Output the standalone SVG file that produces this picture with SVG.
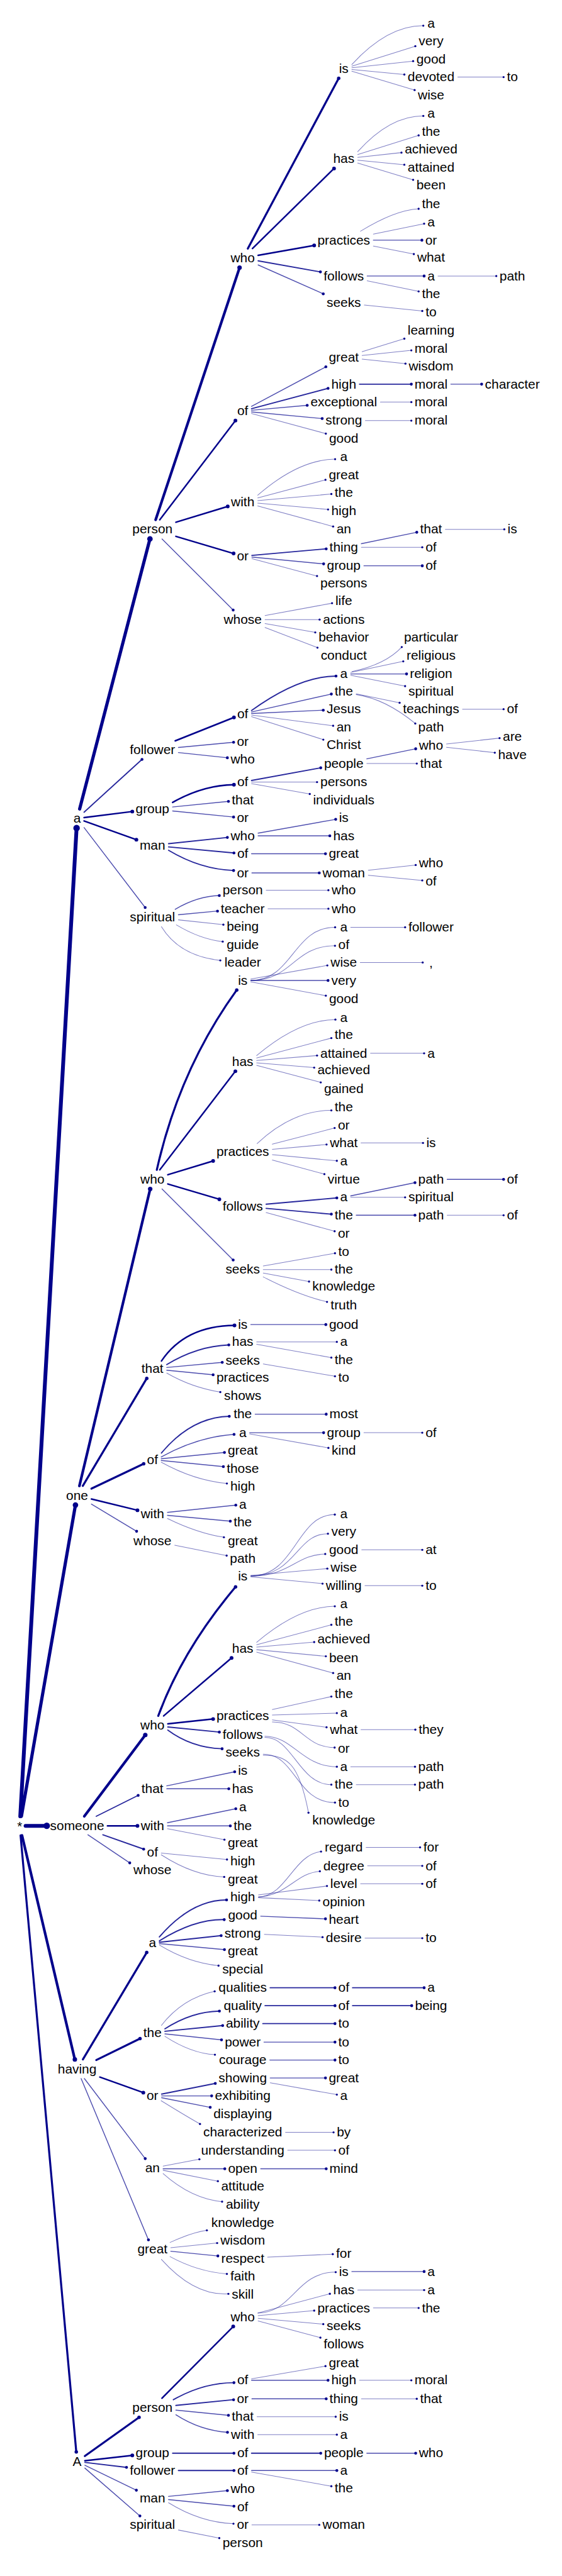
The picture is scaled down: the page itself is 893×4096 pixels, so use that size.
<svg xmlns="http://www.w3.org/2000/svg" width="893" height="4096" viewBox="0 0 893 4096">
<defs>
<style>
text{font-family:"Liberation Sans",Arial,sans-serif;font-size:22px;text-anchor:middle;fill:#000}
#links path{fill:none;stroke:#00008b;stroke-linecap:round}
.a{stroke-width:1.1;stroke-opacity:.5;marker-end:url(#m1)}
.b{stroke-width:1.5;stroke-opacity:.7;marker-end:url(#m1)}
.c{stroke-width:2;stroke-opacity:.85;marker-end:url(#m2)}
.d{stroke-width:2.6;marker-end:url(#m2)}
.e{stroke-width:3.4;marker-end:url(#m3)}
.f{stroke-width:4.4;marker-end:url(#m3)}
.g{stroke-width:5.4;marker-end:url(#m3)}
.h{stroke-width:6.4;marker-end:url(#m3)}
</style>
<marker id="m1" viewBox="-3 -3 6 6" markerWidth="6" markerHeight="6" markerUnits="strokeWidth"><circle r="1.6" fill="#00008b"/></marker>
<marker id="m2" viewBox="-3 -3 6 6" markerWidth="6" markerHeight="6" markerUnits="strokeWidth"><circle r="1.2" fill="#00008b"/></marker>
<marker id="m3" viewBox="-3 -3 6 6" markerWidth="6" markerHeight="6" markerUnits="strokeWidth"><circle r="0.85" fill="#00008b"/></marker>
</defs>
<rect width="893" height="4096" fill="#fff"/>
<g transform="scale(0.95)">
<g id="links">
<path class="h" d="M33.9 3040L128.1 1386"/>
<path class="g" d="M35.8 3040L126.2 2519"/>
<path class="h" d="M42.8 3056L78.2 3056"/>
<path class="f" d="M36.8 3072L125.2 3447"/>
<path class="e" d="M34.4 3072L127.6 4104"/>
<path class="g" d="M133.2 1354L250.8 902"/>
<path class="c" d="M140.6 1359.4L237.5 1271"/>
<path class="d" d="M140.6 1368.5L221.3 1358.3"/>
<path class="d" d="M140.6 1374.1L228.1 1405.4"/>
<path class="b" d="M140.6 1385.2L242.8 1519"/>
<path class="f" d="M260.3 870L400.7 448"/>
<path class="d" d="M267.2 870L393.8 704"/>
<path class="d" d="M294.2 874.1L380.9 847.6"/>
<path class="d" d="M294.2 897.7L390.7 926.4"/>
<path class="b" d="M271 902L390 1021"/>
<path class="e" d="M414.5 416L566.5 131"/>
<path class="d" d="M422.3 416L558.7 282"/>
<path class="d" d="M431.7 427.4L525.5 410.8"/>
<path class="c" d="M431.7 436.6L535.9 455.1"/>
<path class="b" d="M431.7 443.4L540.7 491.8"/>
<path class="a" d="M588.5 108Q648 43 708 43"/>
<path class="a" d="M588.5 110.7L694.7 77.3"/>
<path class="a" d="M588.5 113.5L691 102.3"/>
<path class="a" d="M588.5 116.3L676.3 124.7"/>
<path class="a" d="M588.5 119.1L693.5 150.7"/>
<path class="a" d="M765.7 129L842.3 129"/>
<path class="a" d="M598.3 253.9Q652 194 708 194"/>
<path class="a" d="M598.3 258.7L700.2 226.6"/>
<path class="a" d="M598.3 263.4L671.5 255.4"/>
<path class="a" d="M598.3 268.2L676.3 275.7"/>
<path class="a" d="M598.3 273L691 301"/>
<path class="a" d="M603 387Q660 352 700.2 349.5"/>
<path class="a" d="M624.5 391.8L709.4 374.4"/>
<path class="b" d="M624.5 402L705.7 402"/>
<path class="a" d="M624.5 411.8L692.2 425.3"/>
<path class="b" d="M614.1 462L709.4 462"/>
<path class="a" d="M614.1 470L700.2 487.7"/>
<path class="a" d="M732.6 462L830.1 462"/>
<path class="a" d="M609.3 510.5L706.3 520.5"/>
<path class="b" d="M420.7 680.2L545 614"/>
<path class="c" d="M420.7 684.1L548.7 650"/>
<path class="b" d="M420.7 686.7L513.8 678.4"/>
<path class="b" d="M420.7 689.4L538.9 700.6"/>
<path class="a" d="M420.7 692L545 725.8"/>
<path class="a" d="M605.6 588.6L676.3 566.8"/>
<path class="a" d="M605.6 594.9L688 586.4"/>
<path class="a" d="M605.6 601.1L678.2 608.6"/>
<path class="c" d="M601.3 643L688 643"/>
<path class="b" d="M754 643L805.6 643"/>
<path class="a" d="M636.2 673L688 673"/>
<path class="a" d="M611.1 704L688 704"/>
<path class="a" d="M431.1 828.9Q500 769 560.5 768.5"/>
<path class="a" d="M431.1 833.3L544.4 803.1"/>
<path class="a" d="M431.1 837.8L554.2 826.8"/>
<path class="a" d="M431.1 842.2L548.7 852.7"/>
<path class="a" d="M431.1 846.8L557.2 881.2"/>
<path class="c" d="M421.3 929.6L545.6 918.6"/>
<path class="b" d="M421.3 932.4L541.3 943.8"/>
<path class="a" d="M421.3 935.1L530.3 964.1"/>
<path class="b" d="M604.4 910L697.1 890.9"/>
<path class="a" d="M604.4 916L706.3 916"/>
<path class="a" d="M744.9 886L843.5 886"/>
<path class="b" d="M608.7 947L706.3 947"/>
<path class="a" d="M443.3 1030.2L555.4 1009.6"/>
<path class="a" d="M443.3 1037L534.6 1037"/>
<path class="a" d="M443.3 1043.6L527.3 1058.5"/>
<path class="a" d="M443.3 1050.2L531 1084"/>
<path class="d" d="M293 1240L391.3 1200.8"/>
<path class="b" d="M298.4 1251L390.7 1242.4"/>
<path class="b" d="M298.4 1259.6L380.3 1268.3"/>
<path class="c" d="M420.7 1189.2Q500 1132 562 1131.5"/>
<path class="b" d="M420.7 1191.7L554.2 1161.7"/>
<path class="b" d="M420.7 1194.3L540.7 1188.6"/>
<path class="a" d="M420.7 1196.9L557.2 1214.7"/>
<path class="a" d="M420.7 1199.5L540.8 1238"/>
<path class="a" d="M589 1124Q645 1112 672 1083"/>
<path class="a" d="M586.6 1125.5L674.5 1106.9"/>
<path class="b" d="M586.6 1128L680 1128"/>
<path class="a" d="M586.6 1130.3L677.6 1148.4"/>
<path class="a" d="M595.8 1161.3L668.4 1176.2"/>
<path class="a" d="M595.8 1162.5Q645 1170 694.6 1211"/>
<path class="a" d="M773.6 1187L842.3 1187"/>
<path class="d" d="M288.7 1343Q340 1314 391.3 1313.4"/>
<path class="b" d="M288.7 1350.7L382.1 1341.4"/>
<path class="b" d="M288.7 1357.3L390.7 1367.5"/>
<path class="c" d="M420.7 1306.3L536.5 1285.1"/>
<path class="a" d="M420.7 1309L530.3 1309"/>
<path class="a" d="M420.7 1311.6L518.1 1328.9"/>
<path class="b" d="M613.5 1270.1L695.3 1253.3"/>
<path class="a" d="M613.5 1278L697.1 1278"/>
<path class="a" d="M746.7 1245.2L835.6 1235.4"/>
<path class="a" d="M746.7 1250.8L827.6 1259.8"/>
<path class="c" d="M281.9 1412.1L380.3 1401.7"/>
<path class="c" d="M281.9 1417.5L391.3 1427.6"/>
<path class="c" d="M281.9 1423.2Q335 1455 390.7 1457"/>
<path class="b" d="M431.7 1394.4L561.5 1371.4"/>
<path class="b" d="M431.7 1399L551.7 1399"/>
<path class="b" d="M420.7 1429L544.4 1429"/>
<path class="b" d="M421.3 1461L534 1461"/>
<path class="a" d="M616 1456.5L695.3 1447.8"/>
<path class="a" d="M616 1464.9L706.3 1473.6"/>
<path class="b" d="M293 1522Q330 1500 366.8 1499"/>
<path class="b" d="M298.4 1531L363.8 1524.9"/>
<path class="a" d="M298.4 1539.6L373.6 1547.6"/>
<path class="a" d="M295 1548Q335 1572 372.5 1576"/>
<path class="a" d="M270 1551Q300 1600 368.5 1607.5"/>
<path class="a" d="M445.2 1490L549.3 1490"/>
<path class="a" d="M448.2 1521L549.3 1521"/>
<path class="f" d="M132.8 2487L251.2 1990"/>
<path class="e" d="M138.5 2487L245.5 2307"/>
<path class="e" d="M152.9 2491.6L240.3 2450"/>
<path class="d" d="M152.9 2508.9L229.9 2527.8"/>
<path class="b" d="M152.9 2517.4L228.5 2563"/>
<path class="e" d="M262.3 1958Q300 1790 396 1657"/>
<path class="d" d="M267.3 1958L393.7 1793"/>
<path class="d" d="M280.7 1966.2L356.5 1943.1"/>
<path class="d" d="M280.7 1981.7L366.9 2007.3"/>
<path class="b" d="M271 1990L390 2109"/>
<path class="a" d="M419.5 1641C490 1641 490 1552 560.5 1552"/>
<path class="a" d="M419.5 1641C490 1641 490 1583 560.3 1583"/>
<path class="a" d="M419.5 1638.6L547.5 1615.9"/>
<path class="b" d="M419.5 1641L548.7 1641"/>
<path class="a" d="M419.5 1643.5L545 1666.5"/>
<path class="a" d="M586.6 1552L677.6 1552"/>
<path class="a" d="M602.5 1611L707 1611"/>
<path class="a" d="M429.3 1766.8Q500 1707 561 1706.5"/>
<path class="a" d="M429.3 1770.8L554.2 1737.5"/>
<path class="a" d="M429.3 1775.1L530.3 1766.7"/>
<path class="a" d="M429.3 1778.9L525.5 1786.9"/>
<path class="a" d="M429.3 1783.2L536.5 1811.7"/>
<path class="a" d="M619.7 1763L709.4 1763"/>
<path class="a" d="M430 1914Q490 1858 554.2 1858.5"/>
<path class="a" d="M455.5 1915.1L559.7 1888"/>
<path class="a" d="M455.5 1923.6L546.2 1915.6"/>
<path class="a" d="M455.5 1932.7L563.4 1942.9"/>
<path class="a" d="M455.5 1941.5L542.6 1965.2"/>
<path class="a" d="M603.8 1913L707.5 1913"/>
<path class="c" d="M445.1 2015.5L563.4 2005"/>
<path class="c" d="M445.1 2022.5L554.2 2032.2"/>
<path class="a" d="M445.1 2029.6L559.7 2060.8"/>
<path class="b" d="M586.6 2001.6L694.1 1979.5"/>
<path class="a" d="M586.6 2004L677.6 2004"/>
<path class="b" d="M747.9 1974L842.3 1974"/>
<path class="b" d="M595.8 2034L694.1 2034"/>
<path class="a" d="M747.9 2034L842.3 2034"/>
<path class="a" d="M440.3 2118.9L560.3 2097.6"/>
<path class="a" d="M440.3 2125L554.2 2125"/>
<path class="a" d="M440.3 2130.7L516.9 2145"/>
<path class="a" d="M440.3 2137.2Q500 2168 547 2179"/>
<path class="d" d="M270 2278Q310 2219 392.2 2218.5"/>
<path class="c" d="M278.9 2283.9Q330 2253 382.7 2251"/>
<path class="b" d="M278.9 2288.8L371.7 2280.2"/>
<path class="b" d="M278.9 2293.4L356.5 2301.1"/>
<path class="a" d="M278.9 2298.1Q320 2322 368.5 2330"/>
<path class="b" d="M419.5 2217L545 2217"/>
<path class="a" d="M429.3 2246L563.4 2246"/>
<path class="a" d="M429.3 2250.1L554.2 2272.3"/>
<path class="a" d="M440.3 2282.9L560.3 2303.5"/>
<path class="c" d="M270 2432Q320 2372 383.5 2370.5"/>
<path class="b" d="M269.7 2438.6Q330 2405 391.5 2400.7"/>
<path class="b" d="M269.7 2441.5L375.4 2431"/>
<path class="b" d="M269.7 2444.5L373.6 2454.8"/>
<path class="a" d="M269.7 2447.4Q325 2478 379.5 2483"/>
<path class="b" d="M426.8 2367L545.6 2367"/>
<path class="b" d="M417.6 2398L541.3 2398"/>
<path class="a" d="M417.6 2400.1L549.3 2423.4"/>
<path class="a" d="M608.7 2398L706.3 2398"/>
<path class="b" d="M280.1 2531.3L394.4 2519.2"/>
<path class="b" d="M280.1 2536.3L385.2 2546.1"/>
<path class="a" d="M280.1 2541.5Q330 2566 374.5 2573"/>
<path class="a" d="M292.3 2586.4L379.1 2603.7"/>
<path class="f" d="M141 3040L243 2904"/>
<path class="c" d="M161 3040L231.1 3005"/>
<path class="d" d="M179.8 3056L229.9 3056"/>
<path class="c" d="M172 3071L240.3 3095"/>
<path class="b" d="M147 3071L217 3118"/>
<path class="e" d="M264.7 2872Q305 2762 394 2656"/>
<path class="d" d="M273.7 2872L387.3 2775"/>
<path class="d" d="M280.7 2885.3L356.5 2877.2"/>
<path class="c" d="M280.7 2890.6L366.9 2899.1"/>
<path class="c" d="M280.7 2895.7Q320 2925 371.5 2927"/>
<path class="a" d="M419.5 2638C495 2638 495 2535 560 2535"/>
<path class="a" d="M419.5 2638C495 2638 495 2567 548.5 2567"/>
<path class="a" d="M419.5 2638C485 2638 495 2602 544 2601"/>
<path class="a" d="M419.5 2636.8L547.5 2625.4"/>
<path class="a" d="M419.5 2639.3L539.5 2650.6"/>
<path class="a" d="M605 2594L706.3 2594"/>
<path class="a" d="M610.5 2654L706.3 2654"/>
<path class="a" d="M429.3 2748.8Q500 2689 560 2688.5"/>
<path class="a" d="M429.3 2752.8L554.2 2719.5"/>
<path class="a" d="M429.3 2756.9L525.5 2748.4"/>
<path class="a" d="M429.3 2761.2L545 2772.2"/>
<path class="a" d="M429.3 2765.3L557.2 2800.2"/>
<path class="a" d="M455.5 2861.2L554.2 2839.6"/>
<path class="a" d="M455.5 2870.5L563.4 2867.3"/>
<path class="a" d="M455.5 2878.7L546.2 2891.1"/>
<path class="a" d="M455.5 2882C505 2882 510 2925 559.7 2925"/>
<path class="a" d="M603.8 2895L694.7 2895"/>
<path class="a" d="M443 2906C490 2906 505 2957 563.4 2957"/>
<path class="a" d="M443 2908C490 2908 500 2987 554.2 2987"/>
<path class="a" d="M586.6 2957L694.1 2957"/>
<path class="a" d="M595.8 2987L694.1 2987"/>
<path class="a" d="M440.3 2936C495 2936 495 3017 560.3 3017"/>
<path class="a" d="M440.3 2938C480 2938 500 2950 516 3034"/>
<path class="b" d="M278.9 2989.1L392.5 2965.5"/>
<path class="b" d="M278.9 2994L382.7 2994"/>
<path class="b" d="M280.1 3050.8L394.4 3027.4"/>
<path class="b" d="M280.1 3056L385.2 3056"/>
<path class="a" d="M280.1 3060.8L375.4 3079.1"/>
<path class="a" d="M269.7 3101.5L379.7 3112.4"/>
<path class="a" d="M269.7 3104.5Q325 3140 375 3141.5"/>
<path class="e" d="M138.6 3447L245.4 3268"/>
<path class="e" d="M161 3448L234.2 3412.1"/>
<path class="d" d="M166.9 3476.5L239.7 3502.5"/>
<path class="b" d="M141.1 3479L242.9 3613"/>
<path class="b" d="M135.7 3479L248.3 3749"/>
<path class="c" d="M266.5 3242Q320 3180 379 3180"/>
<path class="c" d="M266.6 3248.5Q325 3212 375 3213"/>
<path class="c" d="M266.6 3250.8L369.9 3239.8"/>
<path class="b" d="M266.6 3253.1L375.4 3263.2"/>
<path class="a" d="M266.6 3255.4Q315 3285 365.5 3290"/>
<path class="a" d="M432.3 3175C480 3173 490 3105 537 3099"/>
<path class="a" d="M432.3 3175C480 3173 495 3135 535 3132"/>
<path class="a" d="M432.3 3171.6L546.9 3156.7"/>
<path class="a" d="M432.3 3176.2L534 3181.1"/>
<path class="a" d="M612.3 3092L702.6 3092"/>
<path class="a" d="M614.8 3123L706.3 3123"/>
<path class="a" d="M603.1 3153L706.3 3153"/>
<path class="b" d="M436 3207.2L544.4 3211.7"/>
<path class="a" d="M442.1 3237.7L539.5 3242.3"/>
<path class="a" d="M610.5 3244L706.3 3244"/>
<path class="a" d="M270 3390Q305 3345 359 3333"/>
<path class="c" d="M275.8 3395.8Q320 3367 367 3366"/>
<path class="c" d="M275.8 3399.9L372.4 3390.3"/>
<path class="b" d="M275.8 3404.2L370.5 3414.2"/>
<path class="a" d="M275.8 3408.3Q320 3437 359.5 3439"/>
<path class="c" d="M451.9 3327L560.3 3327"/>
<path class="c" d="M589.7 3327L709.4 3327"/>
<path class="c" d="M443.3 3357L560.3 3357"/>
<path class="c" d="M589.7 3357L688.6 3357"/>
<path class="c" d="M439.6 3387L560.3 3387"/>
<path class="b" d="M441.5 3418L560.3 3418"/>
<path class="b" d="M451.3 3448L560.3 3448"/>
<path class="c" d="M270.3 3505L360.1 3487.1"/>
<path class="b" d="M270.3 3508L354 3508"/>
<path class="b" d="M270.3 3511L351.6 3527.2"/>
<path class="a" d="M269.5 3516Q305 3538 334.5 3555"/>
<path class="b" d="M451.9 3478L544.4 3478"/>
<path class="a" d="M451.9 3486.1L563.4 3505.9"/>
<path class="a" d="M477.5 3569L557.9 3569"/>
<path class="a" d="M272.8 3625.5L333.5 3614"/>
<path class="b" d="M272.8 3630L376 3630"/>
<path class="a" d="M272.8 3632.5L364.4 3650.7"/>
<path class="a" d="M272.8 3638Q320 3680 371.5 3685"/>
<path class="a" d="M481.2 3599L560.3 3599"/>
<path class="b" d="M436 3630L545.6 3630"/>
<path class="a" d="M284.4 3753.3Q320 3737 346 3733"/>
<path class="a" d="M285.6 3762L363.2 3754.3"/>
<path class="b" d="M285.6 3768L364.4 3775.9"/>
<path class="a" d="M284.4 3777Q330 3802 379.5 3806"/>
<path class="a" d="M270 3781.7Q325 3843 382 3839.3"/>
<path class="a" d="M447.6 3778L556.6 3772.9"/>
<path class="e" d="M141.9 4110.8L232.6 4046"/>
<path class="d" d="M141.9 4118.6L221.3 4109.7"/>
<path class="c" d="M141.9 4121.5L211.6 4129.8"/>
<path class="b" d="M141.9 4126.2L228.1 4168"/>
<path class="b" d="M141.9 4130.9L234 4211"/>
<path class="d" d="M270.9 4014L390.1 3894"/>
<path class="c" d="M290 4016.5Q340 3988 391.3 3988"/>
<path class="c" d="M294.2 4026.1L390.7 4016.5"/>
<path class="b" d="M294.2 4033.9L382.1 4042.6"/>
<path class="b" d="M294.2 4041.7Q335 4068 380.5 4071"/>
<path class="a" d="M431 3871.5C490 3871 495 3803 561.5 3803"/>
<path class="a" d="M431.7 3871.2L551.7 3839.2"/>
<path class="a" d="M431.7 3875.7L525.5 3867.4"/>
<path class="a" d="M431.7 3880.3L540.7 3890"/>
<path class="a" d="M431.7 3884.8L535.9 3912.6"/>
<path class="b" d="M588.5 3802L709.4 3802"/>
<path class="a" d="M598.3 3833L709.4 3833"/>
<path class="a" d="M624.5 3863L700.2 3863"/>
<path class="a" d="M420.7 3981.5L544.4 3960.3"/>
<path class="b" d="M420.7 3984L548.7 3984"/>
<path class="a" d="M601.3 3984L688 3984"/>
<path class="b" d="M421.3 4015L545.6 4015"/>
<path class="a" d="M604.4 4015L697.1 4015"/>
<path class="a" d="M429.9 4045L561.5 4045"/>
<path class="a" d="M431.1 4075L563.4 4075"/>
<path class="c" d="M288.7 4106L391.3 4106"/>
<path class="c" d="M420.7 4106L536.5 4106"/>
<path class="b" d="M613.5 4106L695.3 4106"/>
<path class="c" d="M298.4 4135L391.3 4135"/>
<path class="b" d="M420.7 4135L563.4 4135"/>
<path class="a" d="M420.7 4137.6L554.2 4161.3"/>
<path class="b" d="M281.9 4178.3L380.3 4168.6"/>
<path class="b" d="M281.9 4183.7L391.3 4194.7"/>
<path class="a" d="M281.9 4189Q335 4222 390.5 4224"/>
<path class="a" d="M421.3 4226L534 4226"/>
<path class="a" d="M298.4 4234.6L366.8 4248.2"/>
</g>
<g id="nodes">
<g id="n0"><text x="33" y="3064">*</text></g>
<g id="n1"><text x="129" y="1377">a</text></g>
<g id="n2"><text x="129" y="2510">one</text></g>
<g id="n3"><text x="129" y="3063">someone</text></g>
<g id="n4"><text x="129" y="3470">having</text></g>
<g id="n5"><text x="129" y="4127">A</text></g>
<g id="n6"><text x="255" y="893">person</text></g>
<g id="n7"><text x="406" y="439">who</text></g>
<g id="n8"><text x="575" y="122">is</text></g>
<g id="n9"><text x="721" y="46">a</text></g>
<g id="n10"><text x="721" y="76">very</text></g>
<g id="n11"><text x="721" y="106">good</text></g>
<g id="n12"><text x="721" y="136">devoted</text></g>
<g id="n13"><text x="857" y="136">to</text></g>
<g id="n14"><text x="721" y="166">wise</text></g>
<g id="n15"><text x="575" y="273">has</text></g>
<g id="n16"><text x="721" y="197">a</text></g>
<g id="n17"><text x="721" y="227">the</text></g>
<g id="n18"><text x="721" y="257">achieved</text></g>
<g id="n19"><text x="721" y="287">attained</text></g>
<g id="n20"><text x="721" y="317">been</text></g>
<g id="n21"><text x="575" y="409">practices</text></g>
<g id="n22"><text x="721" y="348">the</text></g>
<g id="n23"><text x="721" y="379">a</text></g>
<g id="n24"><text x="721" y="409">or</text></g>
<g id="n25"><text x="721" y="438">what</text></g>
<g id="n26"><text x="575" y="469">follows</text></g>
<g id="n27"><text x="721" y="469">a</text></g>
<g id="n28"><text x="857" y="469">path</text></g>
<g id="n29"><text x="721" y="499">the</text></g>
<g id="n30"><text x="575" y="514">seeks</text></g>
<g id="n31"><text x="721" y="529">to</text></g>
<g id="n32"><text x="406" y="695">of</text></g>
<g id="n33"><text x="575" y="605">great</text></g>
<g id="n34"><text x="721" y="560">learning</text></g>
<g id="n35"><text x="721" y="590">moral</text></g>
<g id="n36"><text x="721" y="620">wisdom</text></g>
<g id="n37"><text x="575" y="650">high</text></g>
<g id="n38"><text x="721" y="650">moral</text></g>
<g id="n39"><text x="857" y="650">character</text></g>
<g id="n40"><text x="575" y="680">exceptional</text></g>
<g id="n41"><text x="721" y="680">moral</text></g>
<g id="n42"><text x="575" y="711">strong</text></g>
<g id="n43"><text x="721" y="711">moral</text></g>
<g id="n44"><text x="575" y="741">good</text></g>
<g id="n45"><text x="406" y="847">with</text></g>
<g id="n46"><text x="575" y="772">a</text></g>
<g id="n47"><text x="575" y="802">great</text></g>
<g id="n48"><text x="575" y="832">the</text></g>
<g id="n49"><text x="575" y="862">high</text></g>
<g id="n50"><text x="575" y="893">an</text></g>
<g id="n51"><text x="406" y="938">or</text></g>
<g id="n52"><text x="575" y="923">thing</text></g>
<g id="n53"><text x="721" y="893">that</text></g>
<g id="n54"><text x="857" y="893">is</text></g>
<g id="n55"><text x="721" y="923">of</text></g>
<g id="n56"><text x="575" y="954">group</text></g>
<g id="n57"><text x="721" y="954">of</text></g>
<g id="n58"><text x="575" y="983">persons</text></g>
<g id="n59"><text x="406" y="1044">whose</text></g>
<g id="n60"><text x="575" y="1013">life</text></g>
<g id="n61"><text x="575" y="1044">actions</text></g>
<g id="n62"><text x="575" y="1074">behavior</text></g>
<g id="n63"><text x="575" y="1104">conduct</text></g>
<g id="n64"><text x="255" y="1262">follower</text></g>
<g id="n65"><text x="406" y="1202">of</text></g>
<g id="n66"><text x="575" y="1135">a</text></g>
<g id="n67"><text x="721" y="1074">particular</text></g>
<g id="n68"><text x="721" y="1104">religious</text></g>
<g id="n69"><text x="721" y="1135">religion</text></g>
<g id="n70"><text x="721" y="1164">spiritual</text></g>
<g id="n71"><text x="575" y="1164">the</text></g>
<g id="n72"><text x="721" y="1194">teachings</text></g>
<g id="n73"><text x="857" y="1194">of</text></g>
<g id="n74"><text x="721" y="1224">path</text></g>
<g id="n75"><text x="575" y="1194">Jesus</text></g>
<g id="n76"><text x="575" y="1224">an</text></g>
<g id="n77"><text x="575" y="1254">Christ</text></g>
<g id="n78"><text x="406" y="1248">or</text></g>
<g id="n79"><text x="406" y="1278">who</text></g>
<g id="n80"><text x="255" y="1361">group</text></g>
<g id="n81"><text x="406" y="1316">of</text></g>
<g id="n82"><text x="575" y="1285">people</text></g>
<g id="n83"><text x="721" y="1255">who</text></g>
<g id="n84"><text x="857" y="1240">are</text></g>
<g id="n85"><text x="857" y="1270">have</text></g>
<g id="n86"><text x="721" y="1285">that</text></g>
<g id="n87"><text x="575" y="1316">persons</text></g>
<g id="n88"><text x="575" y="1346">individuals</text></g>
<g id="n89"><text x="406" y="1346">that</text></g>
<g id="n90"><text x="406" y="1376">or</text></g>
<g id="n91"><text x="255" y="1422">man</text></g>
<g id="n92"><text x="406" y="1406">who</text></g>
<g id="n93"><text x="575" y="1376">is</text></g>
<g id="n94"><text x="575" y="1406">has</text></g>
<g id="n95"><text x="406" y="1436">of</text></g>
<g id="n96"><text x="575" y="1436">great</text></g>
<g id="n97"><text x="406" y="1468">or</text></g>
<g id="n98"><text x="575" y="1468">woman</text></g>
<g id="n99"><text x="721" y="1452">who</text></g>
<g id="n100"><text x="721" y="1482">of</text></g>
<g id="n101"><text x="255" y="1542">spiritual</text></g>
<g id="n102"><text x="406" y="1497">person</text></g>
<g id="n103"><text x="575" y="1497">who</text></g>
<g id="n104"><text x="406" y="1528">teacher</text></g>
<g id="n105"><text x="575" y="1528">who</text></g>
<g id="n106"><text x="406" y="1558">being</text></g>
<g id="n107"><text x="406" y="1588">guide</text></g>
<g id="n108"><text x="406" y="1618">leader</text></g>
<g id="n109"><text x="255" y="1981">who</text></g>
<g id="n110"><text x="406" y="1648">is</text></g>
<g id="n111"><text x="575" y="1559">a</text></g>
<g id="n112"><text x="721" y="1559">follower</text></g>
<g id="n113"><text x="575" y="1588">of</text></g>
<g id="n114"><text x="575" y="1618">wise</text></g>
<g id="n115"><text x="721" y="1619">,</text></g>
<g id="n116"><text x="575" y="1648">very</text></g>
<g id="n117"><text x="575" y="1679">good</text></g>
<g id="n118"><text x="406" y="1784">has</text></g>
<g id="n119"><text x="575" y="1710">a</text></g>
<g id="n120"><text x="575" y="1739">the</text></g>
<g id="n121"><text x="575" y="1770">attained</text></g>
<g id="n122"><text x="721" y="1770">a</text></g>
<g id="n123"><text x="575" y="1798">achieved</text></g>
<g id="n124"><text x="575" y="1829">gained</text></g>
<g id="n125"><text x="406" y="1935">practices</text></g>
<g id="n126"><text x="575" y="1860">the</text></g>
<g id="n127"><text x="575" y="1891">or</text></g>
<g id="n128"><text x="575" y="1920">what</text></g>
<g id="n129"><text x="721" y="1920">is</text></g>
<g id="n130"><text x="575" y="1951">a</text></g>
<g id="n131"><text x="575" y="1981">virtue</text></g>
<g id="n132"><text x="406" y="2026">follows</text></g>
<g id="n133"><text x="575" y="2011">a</text></g>
<g id="n134"><text x="721" y="1981">path</text></g>
<g id="n135"><text x="857" y="1981">of</text></g>
<g id="n136"><text x="721" y="2011">spiritual</text></g>
<g id="n137"><text x="575" y="2041">the</text></g>
<g id="n138"><text x="721" y="2041">path</text></g>
<g id="n139"><text x="857" y="2041">of</text></g>
<g id="n140"><text x="575" y="2072">or</text></g>
<g id="n141"><text x="406" y="2132">seeks</text></g>
<g id="n142"><text x="575" y="2102">to</text></g>
<g id="n143"><text x="575" y="2132">the</text></g>
<g id="n144"><text x="575" y="2160">knowledge</text></g>
<g id="n145"><text x="575" y="2192">truth</text></g>
<g id="n146"><text x="255" y="2298">that</text></g>
<g id="n147"><text x="406" y="2224">is</text></g>
<g id="n148"><text x="575" y="2224">good</text></g>
<g id="n149"><text x="406" y="2253">has</text></g>
<g id="n150"><text x="575" y="2253">a</text></g>
<g id="n151"><text x="575" y="2283">the</text></g>
<g id="n152"><text x="406" y="2284">seeks</text></g>
<g id="n153"><text x="575" y="2313">to</text></g>
<g id="n154"><text x="406" y="2313">practices</text></g>
<g id="n155"><text x="406" y="2343">shows</text></g>
<g id="n156"><text x="255" y="2450">of</text></g>
<g id="n157"><text x="406" y="2374">the</text></g>
<g id="n158"><text x="575" y="2374">most</text></g>
<g id="n159"><text x="406" y="2405">a</text></g>
<g id="n160"><text x="575" y="2405">group</text></g>
<g id="n161"><text x="721" y="2405">of</text></g>
<g id="n162"><text x="575" y="2435">kind</text></g>
<g id="n163"><text x="406" y="2435">great</text></g>
<g id="n164"><text x="406" y="2465">those</text></g>
<g id="n165"><text x="406" y="2495">high</text></g>
<g id="n166"><text x="255" y="2541">with</text></g>
<g id="n167"><text x="406" y="2525">a</text></g>
<g id="n168"><text x="406" y="2555">the</text></g>
<g id="n169"><text x="406" y="2586">great</text></g>
<g id="n170"><text x="255" y="2586">whose</text></g>
<g id="n171"><text x="406" y="2616">path</text></g>
<g id="n172"><text x="255" y="2895">who</text></g>
<g id="n173"><text x="406" y="2645">is</text></g>
<g id="n174"><text x="575" y="2541">a</text></g>
<g id="n175"><text x="575" y="2571">very</text></g>
<g id="n176"><text x="575" y="2601">good</text></g>
<g id="n177"><text x="721" y="2601">at</text></g>
<g id="n178"><text x="575" y="2630">wise</text></g>
<g id="n179"><text x="575" y="2661">willing</text></g>
<g id="n180"><text x="721" y="2661">to</text></g>
<g id="n181"><text x="406" y="2766">has</text></g>
<g id="n182"><text x="575" y="2692">a</text></g>
<g id="n183"><text x="575" y="2721">the</text></g>
<g id="n184"><text x="575" y="2751">achieved</text></g>
<g id="n185"><text x="575" y="2782">been</text></g>
<g id="n186"><text x="575" y="2812">an</text></g>
<g id="n187"><text x="406" y="2879">practices</text></g>
<g id="n188"><text x="575" y="2842">the</text></g>
<g id="n189"><text x="575" y="2874">a</text></g>
<g id="n190"><text x="575" y="2902">what</text></g>
<g id="n191"><text x="721" y="2902">they</text></g>
<g id="n192"><text x="575" y="2934">or</text></g>
<g id="n193"><text x="406" y="2910">follows</text></g>
<g id="n194"><text x="575" y="2964">a</text></g>
<g id="n195"><text x="721" y="2964">path</text></g>
<g id="n196"><text x="575" y="2994">the</text></g>
<g id="n197"><text x="721" y="2994">path</text></g>
<g id="n198"><text x="406" y="2940">seeks</text></g>
<g id="n199"><text x="575" y="3024">to</text></g>
<g id="n200"><text x="575" y="3054">knowledge</text></g>
<g id="n201"><text x="255" y="3001">that</text></g>
<g id="n202"><text x="406" y="2970">is</text></g>
<g id="n203"><text x="406" y="3001">has</text></g>
<g id="n204"><text x="255" y="3063">with</text></g>
<g id="n205"><text x="406" y="3032">a</text></g>
<g id="n206"><text x="406" y="3063">the</text></g>
<g id="n207"><text x="406" y="3092">great</text></g>
<g id="n208"><text x="255" y="3107">of</text></g>
<g id="n209"><text x="406" y="3122">high</text></g>
<g id="n210"><text x="406" y="3153">great</text></g>
<g id="n211"><text x="255" y="3137">whose</text></g>
<g id="n212"><text x="255" y="3259">a</text></g>
<g id="n213"><text x="406" y="3182">high</text></g>
<g id="n214"><text x="575" y="3099">regard</text></g>
<g id="n215"><text x="721" y="3099">for</text></g>
<g id="n216"><text x="575" y="3130">degree</text></g>
<g id="n217"><text x="721" y="3130">of</text></g>
<g id="n218"><text x="575" y="3160">level</text></g>
<g id="n219"><text x="721" y="3160">of</text></g>
<g id="n220"><text x="575" y="3190">opinion</text></g>
<g id="n221"><text x="406" y="3213">good</text></g>
<g id="n222"><text x="575" y="3220">heart</text></g>
<g id="n223"><text x="406" y="3243">strong</text></g>
<g id="n224"><text x="575" y="3251">desire</text></g>
<g id="n225"><text x="721" y="3251">to</text></g>
<g id="n226"><text x="406" y="3273">great</text></g>
<g id="n227"><text x="406" y="3303">special</text></g>
<g id="n228"><text x="255" y="3409">the</text></g>
<g id="n229"><text x="406" y="3334">qualities</text></g>
<g id="n230"><text x="575" y="3334">of</text></g>
<g id="n231"><text x="721" y="3334">a</text></g>
<g id="n232"><text x="406" y="3364">quality</text></g>
<g id="n233"><text x="575" y="3364">of</text></g>
<g id="n234"><text x="721" y="3364">being</text></g>
<g id="n235"><text x="406" y="3394">ability</text></g>
<g id="n236"><text x="575" y="3394">to</text></g>
<g id="n237"><text x="406" y="3425">power</text></g>
<g id="n238"><text x="575" y="3425">to</text></g>
<g id="n239"><text x="406" y="3455">courage</text></g>
<g id="n240"><text x="575" y="3455">to</text></g>
<g id="n241"><text x="255" y="3515">or</text></g>
<g id="n242"><text x="406" y="3485">showing</text></g>
<g id="n243"><text x="575" y="3485">great</text></g>
<g id="n244"><text x="575" y="3515">a</text></g>
<g id="n245"><text x="406" y="3515">exhibiting</text></g>
<g id="n246"><text x="406" y="3545">displaying</text></g>
<g id="n247"><text x="406" y="3576">characterized</text></g>
<g id="n248"><text x="575" y="3576">by</text></g>
<g id="n249"><text x="255" y="3636">an</text></g>
<g id="n250"><text x="406" y="3606">understanding</text></g>
<g id="n251"><text x="575" y="3606">of</text></g>
<g id="n252"><text x="406" y="3637">open</text></g>
<g id="n253"><text x="575" y="3637">mind</text></g>
<g id="n254"><text x="406" y="3666">attitude</text></g>
<g id="n255"><text x="406" y="3697">ability</text></g>
<g id="n256"><text x="255" y="3772">great</text></g>
<g id="n257"><text x="406" y="3727">knowledge</text></g>
<g id="n258"><text x="406" y="3757">wisdom</text></g>
<g id="n259"><text x="406" y="3787">respect</text></g>
<g id="n260"><text x="575" y="3779">for</text></g>
<g id="n261"><text x="406" y="3817">faith</text></g>
<g id="n262"><text x="406" y="3847">skill</text></g>
<g id="n263"><text x="255" y="4037">person</text></g>
<g id="n264"><text x="406" y="3885">who</text></g>
<g id="n265"><text x="575" y="3809">is</text></g>
<g id="n266"><text x="721" y="3809">a</text></g>
<g id="n267"><text x="575" y="3840">has</text></g>
<g id="n268"><text x="721" y="3840">a</text></g>
<g id="n269"><text x="575" y="3870">practices</text></g>
<g id="n270"><text x="721" y="3870">the</text></g>
<g id="n271"><text x="575" y="3900">seeks</text></g>
<g id="n272"><text x="575" y="3930">follows</text></g>
<g id="n273"><text x="406" y="3991">of</text></g>
<g id="n274"><text x="575" y="3962">great</text></g>
<g id="n275"><text x="575" y="3991">high</text></g>
<g id="n276"><text x="721" y="3991">moral</text></g>
<g id="n277"><text x="406" y="4022">or</text></g>
<g id="n278"><text x="575" y="4022">thing</text></g>
<g id="n279"><text x="721" y="4022">that</text></g>
<g id="n280"><text x="406" y="4052">that</text></g>
<g id="n281"><text x="575" y="4052">is</text></g>
<g id="n282"><text x="406" y="4082">with</text></g>
<g id="n283"><text x="575" y="4082">a</text></g>
<g id="n284"><text x="255" y="4113">group</text></g>
<g id="n285"><text x="406" y="4113">of</text></g>
<g id="n286"><text x="575" y="4113">people</text></g>
<g id="n287"><text x="721" y="4113">who</text></g>
<g id="n288"><text x="255" y="4142">follower</text></g>
<g id="n289"><text x="406" y="4142">of</text></g>
<g id="n290"><text x="575" y="4142">a</text></g>
<g id="n291"><text x="575" y="4172">the</text></g>
<g id="n292"><text x="255" y="4188">man</text></g>
<g id="n293"><text x="406" y="4173">who</text></g>
<g id="n294"><text x="406" y="4203">of</text></g>
<g id="n295"><text x="406" y="4233">or</text></g>
<g id="n296"><text x="575" y="4233">woman</text></g>
<g id="n297"><text x="255" y="4233">spiritual</text></g>
<g id="n298"><text x="406" y="4263">person</text></g>
</g>
</g>
</svg>
